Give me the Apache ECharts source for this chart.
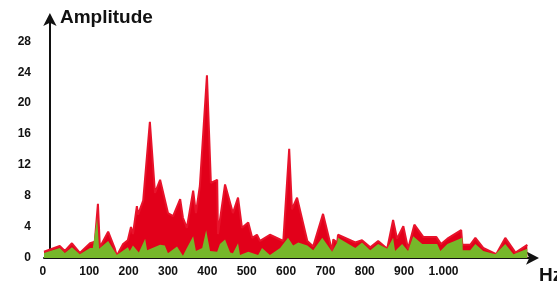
<!DOCTYPE html>
<html>
<head>
<meta charset="utf-8">
<script src="https://cdn.jsdelivr.net/npm/echarts@6/dist/echarts.min.js"></script>
<style>
html,body{margin:0;padding:0;background:#fff;}
#chart{width:557px;height:283px;}
</style>
</head>
<body>
<div id="chart"></div>
<script>
// Frequency (Hz) and amplitude of the upper (red) envelope
var redHz  = [-15, 25, 38, 56, 76, 102, 114, 122, 127, 148, 165, 170, 186, 198, 206, 211, 221, 224, 237, 254, 267, 280, 300, 313, 331, 338, 348, 364, 371, 381, 399, 409, 425, 427, 445, 465, 478, 488, 504, 514, 526, 534, 559, 593, 608, 615, 628, 654, 669, 694, 717, 720, 730, 732, 776, 793, 814, 834, 857, 872, 882, 898, 910, 926, 949, 982, 994, 1010, 1045, 1048, 1068, 1081, 1101, 1134, 1157, 1183, 1213];
var redAmp = [0.8, 1.55, 0.9, 1.9, 0.65, 1.9, 2.1, 7.0, 1.4, 3.4, 1.2, 0.3, 1.8, 2.3, 4.0, 3.1, 6.7, 5.6, 7.4, 17.6, 8.4, 10.1, 5.8, 5.4, 7.6, 5.2, 3.9, 8.7, 5.8, 9.3, 23.6, 9.7, 10.1, 3.1, 9.5, 5.8, 7.8, 3.9, 4.6, 2.6, 3.0, 2.2, 3.0, 2.2, 14.1, 6.3, 7.8, 2.2, 1.5, 5.7, 0.9, 2.4, 2.0, 3.0, 2.0, 2.3, 1.4, 2.2, 1.2, 4.9, 2.5, 4.1, 1.2, 4.3, 2.7, 2.7, 1.8, 2.5, 3.6, 1.7, 1.7, 2.6, 1.3, 0.5, 2.6, 0.7, 1.7];
// Frequency (Hz) and amplitude of the lower (green) envelope
var greenHz  = [-15, 25, 38, 56, 76, 102, 109, 120, 125, 148, 170, 198, 203, 211, 214, 226, 242, 247, 280, 292, 300, 323, 338, 348, 364, 371, 387, 397, 407, 425, 432, 445, 458, 465, 478, 483, 504, 529, 539, 559, 585, 605, 618, 631, 654, 669, 692, 717, 730, 732, 776, 793, 814, 834, 857, 872, 877, 895, 910, 923, 946, 984, 992, 1010, 1048, 1049, 1068, 1081, 1101, 1132, 1157, 1178, 1213];
var greenAmp = [0.65, 1.3, 0.65, 1.4, 0.5, 1.3, 1.3, 5.2, 1.2, 2.2, 0.4, 1.4, 0.9, 1.6, 1.4, 0.7, 2.5, 1.0, 1.7, 1.6, 0.6, 1.5, 0.3, 1.3, 2.8, 0.9, 1.3, 3.6, 0.9, 0.8, 1.8, 2.4, 0.7, 0.6, 1.9, 0.4, 0.8, 0.4, 1.3, 0.4, 1.3, 2.6, 1.6, 2.0, 1.6, 1.0, 2.6, 0.8, 2.0, 2.6, 1.3, 2.0, 1.0, 1.8, 1.2, 2.6, 0.9, 1.8, 0.9, 2.8, 1.8, 1.8, 0.9, 1.8, 2.6, 1.0, 1.0, 1.8, 0.9, 0.5, 1.8, 0.5, 1.2];
// Tick labels
var xTicks = [0, 100, 200, 300, 400, 500, 600, 700, 800, 900, 1000];
var yTicks = [0, 4, 8, 12, 16, 20, 24, 28];

function pairs(xs, ys) { return xs.map(function (x, i) { return [x, ys[i]]; }); }

var chart = echarts.init(document.getElementById('chart'), null, { renderer: 'canvas' });
var labelFont = { fontFamily: 'Liberation Sans, Arial, sans-serif', fontWeight: 'bold', fontSize: 12, color: '#111' };
chart.setOption({
  animation: false,
  backgroundColor: '#ffffff',
  grid: { left: 44, right: 23, top: 18, bottom: 25, containLabel: false },
  xAxis: {
    type: 'value', min: -15, max: 1230,
    splitLine: { show: false },
    axisTick: { show: false },
    axisLine: { show: true, onZero: false, symbol: ['none', 'arrow'], symbolSize: [10, 13], symbolOffset: [0, 5], lineStyle: { color: '#111', width: 2 } },
    axisLabel: Object.assign({
      customValues: xTicks, margin: 8,
      formatter: function (v) { if (v === 0) return '{z|0}'; if (v >= 1000) return '1.000'; return String(v); },
      rich: { z: { fontFamily: 'Liberation Sans, Arial, sans-serif', fontWeight: 'bold', fontSize: 12, color: '#111', padding: [0, 14, 0, 0] } }
    }, labelFont)
  },
  yAxis: {
    type: 'value', min: 0, max: 31,
    splitLine: { show: false },
    axisTick: { show: false },
    axisLine: { show: true, symbol: ['none', 'arrow'], symbolSize: [10, 13], symbolOffset: [0, 5], lineStyle: { color: '#111', width: 2 } },
    axisLabel: Object.assign({ customValues: yTicks, margin: 13 }, labelFont)
  },
  graphic: [
    { type: 'text', left: 60, top: 8, style: { text: 'Amplitude', fontFamily: 'Liberation Sans, Arial, sans-serif', fontWeight: 'bold', fontSize: 19, fill: '#111' } },
    { type: 'text', left: 539, top: 266, style: { text: 'Hz', fontFamily: 'Liberation Sans, Arial, sans-serif', fontWeight: 'bold', fontSize: 19, fill: '#111' } }
  ],
  series: [
    {
      type: 'line', data: pairs(redHz, redAmp), symbol: 'none', smooth: false, z: 2,
      lineStyle: { color: '#e8132b', width: 2 },
      areaStyle: { color: '#e2001a', opacity: 1, origin: 'start' }
    },
    {
      type: 'line', data: pairs(greenHz, greenAmp), symbol: 'none', smooth: false, z: 3,
      lineStyle: { width: 0 },
      areaStyle: { color: '#76b72a', opacity: 1, origin: 'start' }
    }
  ]
});
</script>
</body>
</html>
